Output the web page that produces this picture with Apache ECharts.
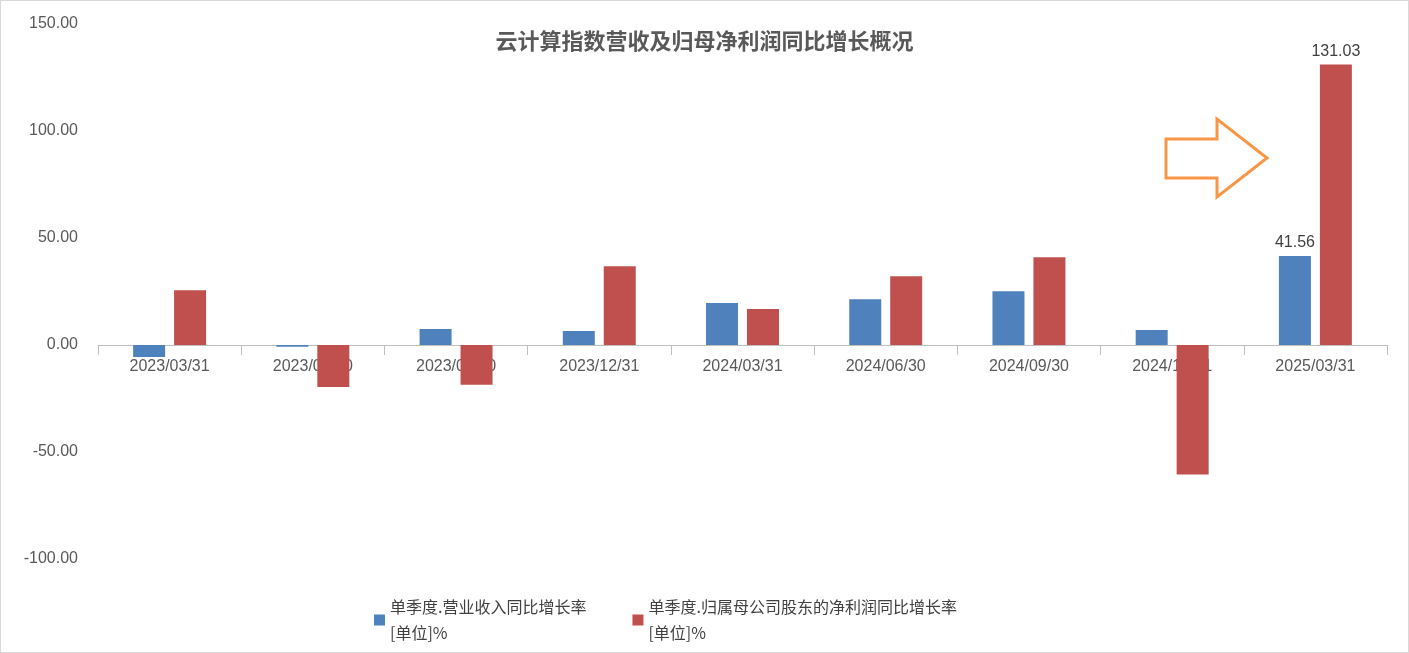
<!DOCTYPE html>
<html><head><meta charset="utf-8">
<script src="https://cdn.jsdelivr.net/npm/echarts@6/dist/echarts.min.js"></script>
<style>html,body{margin:0;padding:0;background:#fff}#c{width:1409px;height:653px;box-sizing:border-box;border:1px solid #d9d9d9}</style>
</head><body><div id="c"></div>
<script>
const categories=['2023/03/31','2023/06/30','2023/09/30','2023/12/31','2024/03/31','2024/06/30','2024/09/30','2024/12/31','2025/03/31'];
const revenue=[-5.6,-0.8,7.5,6.5,19.6,21.4,25.1,7.0,41.56];
const profit=[25.6,-19.6,-18.6,36.8,16.8,32.1,41.0,-60.5,131.03];
const names=['单季度.营业收入同比增长率\n[单位]%','单季度.归属母公司股东的净利润同比增长率\n[单位]%'];
const chart=echarts.init(document.getElementById('c'));
const font='"Noto Sans CJK SC", sans-serif';
const lastLabel=()=>({show:true,position:'top',color:'#404040',fontSize:16,fontFamily:'Liberation Sans, sans-serif',formatter:p=>p.dataIndex===8?p.value.toFixed(2):''});
chart.setOption({
 animation:false,
 title:{text:'云计算指数营收及归母净利润同比增长概况',left:'center',top:24,textStyle:{fontFamily:font,fontSize:22,fontWeight:'bold',color:'#595959'}},
 grid:{left:97,right:21,top:23,bottom:93,containLabel:false},
 legend:{top:588,left:368,itemWidth:11,itemHeight:11,itemGap:46,icon:'rect',textStyle:{fontFamily:font,fontSize:16,color:'#404040',lineHeight:26},data:names},
 xAxis:{type:'category',data:categories,offset:-214,axisLine:{onZero:false,lineStyle:{color:'#bfbfbf'}},axisTick:{show:true,length:10,lineStyle:{color:'#bfbfbf'}},axisLabel:{color:'#595959',fontSize:16,fontFamily:'Liberation Sans, sans-serif',margin:14}},
 yAxis:{type:'value',min:-100,max:150,interval:50,splitLine:{show:false},axisLine:{show:false},axisLabel:{color:'#595959',fontSize:16,fontFamily:'Liberation Sans, sans-serif',formatter:v=>v.toFixed(2),margin:20}},
 series:[
  {name:names[0],type:'bar',data:revenue,barWidth:32,barGap:'28%',itemStyle:{color:'#4f81bd'},label:lastLabel()},
  {name:names[1],type:'bar',data:profit,barWidth:32,itemStyle:{color:'#c0504d'},label:lastLabel()}
 ],
 graphic:[{type:'polygon',shape:{points:[[1165,138],[1216,138],[1216,118],[1266,157],[1216,196],[1216,177],[1165,177]]},style:{fill:'none',stroke:'#f79646',lineWidth:3}}]
});
</script></body></html>
